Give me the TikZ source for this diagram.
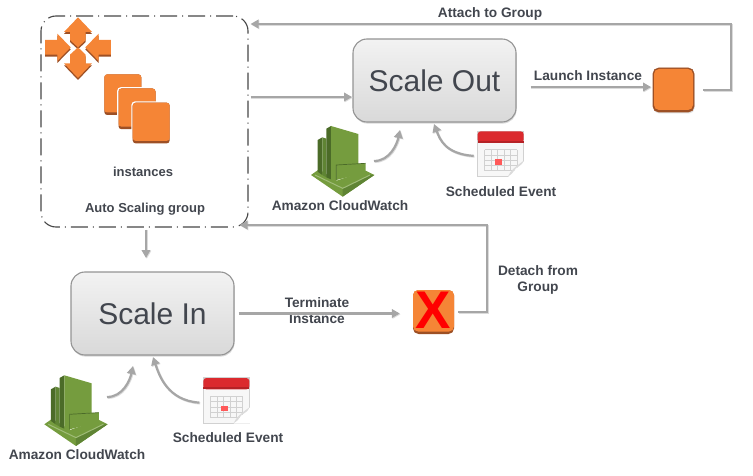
\documentclass[tikz,border=0pt]{standalone}
\usepackage{fontspec}
\setmainfont{Liberation Sans}
\usetikzlibrary{arrows.meta}
\usetikzlibrary{shadows}
\definecolor{awsorange}{HTML}{F58536}
\definecolor{awsdark}{HTML}{9D5025}
\definecolor{cwlight}{HTML}{759C3E}
\definecolor{cwmid}{HTML}{5F8434}
\definecolor{cwdark}{HTML}{4B6B28}
\definecolor{cwpale}{HTML}{A0BC78}
\definecolor{calred}{HTML}{DB2A2E}
\definecolor{caldark}{HTML}{B52226}
\definecolor{conncol}{HTML}{A6A6A6}
\definecolor{textcol}{HTML}{42464E}
\tikzset{
  conn/.style={draw=conncol,line width=2.2pt,>={Triangle[length=8pt,width=8.5pt]},
    preaction={draw=black!14,line width=2.2pt,transform canvas={shift={(0.8,0.8)}}}},
  label/.style={font=\fontsize{13.7}{16.5}\selectfont\bfseries,text=textcol,align=center,inner sep=0pt},
  grouplabel/.style={label,font=\fontsize{13}{16}\selectfont\bfseries},
  scalebox/.style={rounded corners=14pt,draw=black!42,line width=1.1pt,top color=black!5,bottom color=black!15,
    minimum width=163pt,minimum height=83pt,inner sep=0pt,font=\fontsize{30}{36}\selectfont,text=textcol,
    drop shadow={shadow xshift=0.6pt,shadow yshift=-1.6pt,opacity=0.3}},
  instbox/.style={rounded corners=5.5pt,fill=awsdark,minimum width=41pt,minimum height=44pt,inner sep=0pt},
  groupbox/.style={rounded corners=15pt,draw=black!72,line width=1.1pt,dash pattern=on 17pt off 5pt on 1pt off 5pt,
    minimum width=207pt,minimum height=211pt,inner sep=0pt},
  cloudwatch/.pic={
    \begin{scope}[scale=1/3]
    \fill[cwlight] (18,165) -- (113,230) -- (208,165) -- (182,152) -- (95,182) -- (42,148) -- cycle;
    \fill[cwmid] (113,205) -- (195,165) -- (208,165) -- (113,230) -- cycle;
    \draw[cwpale,line width=1pt] (30,165) -- (113,205) -- (195,165);
    \fill[cwdark] (38,60) -- (52,52) -- (52,165) -- (38,155) -- cycle;
    \fill[cwmid] (52,52) -- (64,56) -- (64,172) -- (52,165) -- cycle;
    \fill[cwdark] (64,26) -- (78,18) -- (78,178) -- (64,172) -- cycle;
    \fill[cwlight] (78,18) -- (160,42) -- (160,132) -- (95,136) -- (95,182) -- (78,178) -- cycle;
    \fill[cwlight] (94,135) -- (182,130) -- (182,158) -- (94,180) -- cycle;
    \draw[cwdark,line width=0.7pt] (94,180) -- (94,135) -- (182,130);
    \end{scope}
  },
  calendar/.pic={
    \coordinate (-out) at (1.7,9.3*3);
    \begin{scope}[scale=1/3]
    \fill[black!18] (15,8) rectangle (157,147);
    \fill[black!3] (18,12) rectangle (154,144);
    \fill[calred,rounded corners=3pt] (17,10) rectangle (155,44);
    \fill[caldark] (17,38) rectangle (155,44);
    \foreach \gx in {38,57.4,...,135}
      \draw[black!18,line width=0.5pt] (\gx,65) -- (\gx,128);
    \foreach \gy in {65,80.75,...,128}
      \draw[black!18,line width=0.5pt] (38,\gy) -- (135,\gy);
    \fill[red!65!white] (70,93) rectangle (90,110);
    \fill[white] (108,147) -- (157,98) -- (157,147) -- cycle;
    \fill[black!14] (108,145) .. controls (116,128) and (125,120) .. (155,98) .. controls (148,118) and (130,116) .. (128,125) .. controls (125,132) and (118,140) .. cycle;
    \end{scope}
  }
}
\begin{document}
\begin{tikzpicture}[x=1pt,y=-1pt]
\useasboundingbox (0,0) rectangle (753,476);

\node[groupbox] (group) at (144.5,121.5) {};
\node[scalebox] (scaleout) at (434.5,80.5) {Scale Out};
\node[scalebox] (scalein) at (152.5,313.5) {Scale In};

\begin{scope}[shift={(40,12)},scale=1/3]
\foreach \col/\dy in {awsdark/6,awsorange/0} {
  \fill[\col,shift={(0,\dy)}] (114,16) -- (156,60) -- (137,60) -- (137,84) -- (114,106) -- (90,84) -- (90,60) -- (72,60) -- cycle;
  \fill[\col,shift={(0,\dy)}] (114,198) -- (156,154) -- (137,154) -- (137,128) -- (114,106) -- (90,128) -- (90,154) -- (72,154) -- cycle;
  \fill[\col,shift={(0,\dy)}] (15,84) -- (52,84) -- (52,65) -- (92,106) -- (52,147) -- (52,128) -- (15,128) -- cycle;
  \fill[\col,shift={(0,\dy)}] (213,84) -- (176,84) -- (176,65) -- (136,106) -- (176,147) -- (176,128) -- (213,128) -- cycle;
}
\end{scope}

\foreach \dx in {0,14.2,28.4} {
  \fill[white,rounded corners=3.5pt,shift={(\dx,\dx)}] (103,73) rectangle (142.5,116.5);
  \fill[awsdark,rounded corners=3pt,shift={(\dx,\dx)}] (104.3,74.3) rectangle (141.3,115);
  \fill[awsorange,rounded corners=3pt,shift={(\dx,\dx)}] (104.3,74.3) rectangle (141.3,112.5);
}
\node[grouplabel] (instlabel) at (143,172) {instances};
\node[grouplabel] (asglabel) at (145,209) {Auto Scaling group};

\node[instbox,draw=awsdark,line width=0.6pt,drop shadow={shadow xshift=0.6pt,shadow yshift=-1.5pt,opacity=0.25}] (newinst) at (673.5,90) {};
\fill[awsorange,rounded corners=5pt] (654,69) rectangle (693,110);
\node[instbox] (oldinst) at (433.5,312) {};
\fill[awsorange,rounded corners=5pt] (413,290) rectangle (454,331.5);
\node[font=\fontsize{53}{53}\selectfont\bfseries,text=red,inner sep=0pt] (cross) at (433.5,310) {X};

\pic (cwout) at (305,120) {cloudwatch};
\pic (cwin) at (38.3,369.3) {cloudwatch};
\pic (calout) at (472,128) {calendar};
\pic (calin) at (197.7,374.7) {calendar};

\node[label] (cwoutlabel) at (340,206) {Amazon CloudWatch};
\node[label] (cwinlabel) at (77,455) {Amazon CloudWatch};
\node[label] (caloutlabel) at (501,192) {Scheduled Event};
\node[label] (calinlabel) at (228,438) {Scheduled Event};
\node[label] (attachlabel) at (490,14) {Attach to Group};
\node[label] (launchlabel) at (588,76) {Launch Instance};
\node[label] (termlabel) at (317,310.5) {Terminate\\Instance};
\node[label] (detachlabel) at (538,280) {Detach from\\Group};

\coordinate (attachcorner) at (731,24);
\coordinate (launchend) at (651,87);
\coordinate (groupout) at (352,97);
\coordinate (groupin) at (146,258);
\coordinate (detachcorner) at (487,225);
\coordinate (cwoutend) at (400,130);
\coordinate (caloutend) at (434,124);
\coordinate (cwinend) at (133,366);
\coordinate (calinend) at (153,357);
\coordinate (cwoutstart) at (374,161);
\coordinate (cwinstart) at (107,397);

\draw[conn,->,shorten <=9pt,shorten >=2pt] (newinst.east) -| (attachcorner) -- (attachcorner -| group.east);
\draw[conn,->,shorten <=14pt] (launchend -| scaleout.east) -- (launchend);
\draw[conn,->,shorten <=2pt] (groupout -| group.east) -- (groupout);
\draw[conn,->,shorten <=2pt] (groupin |- group.south) -- (groupin);
\draw[conn,->,shorten <=4pt,shorten >=13pt] (scalein.east) -- (scalein.east -| oldinst.west);
\draw[conn,->,shorten <=4pt,shorten >=-9pt] (oldinst.east) -| (detachcorner) -- (detachcorner -| group.east);

\draw[conn,->] (cwoutstart) .. controls +(16,0) and +(-3,14) .. (cwoutend);
\draw[conn,->] (calout-out) .. controls +(-28,-2) and +(6,16) .. (caloutend);
\draw[conn,->] (cwinstart) .. controls +(16,0) and +(-3,14) .. (cwinend);
\draw[conn,->] (calin-out) .. controls +(-32,-2) and +(6,18) .. (calinend);

\end{tikzpicture}
\end{document}
